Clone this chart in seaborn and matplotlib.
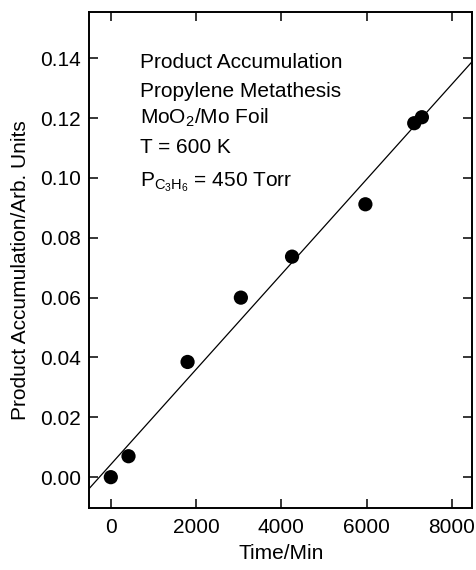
import numpy as np
import pandas as pd
import matplotlib
matplotlib.use("Agg")
import matplotlib.pyplot as plt
import seaborn as sns

time_min = [0, 415, 1800, 3050, 4250, 5970, 7115, 7295]
accumulation = [0.000, 0.0070, 0.0385, 0.0600, 0.0737, 0.0912, 0.1183, 0.1203]
x_ticks = [0, 2000, 4000, 6000, 8000]
y_ticks = [0.00, 0.02, 0.04, 0.06, 0.08, 0.10, 0.12, 0.14]
annotation_lines = ["Product Accumulation", "Propylene Metathesis",
                    "MoO$_2$/Mo Foil", "T = 600 K",
                    "P$_{\\mathregular{C_3H_6}}$ = 450 Torr"]

df = pd.DataFrame({"Time/Min": time_min, "Accum": accumulation})

sns.set_style("ticks")
plt.rcParams["font.family"] = ["Liberation Sans", "DejaVu Sans"]
plt.rcParams["mathtext.fontset"] = "custom"
plt.rcParams["mathtext.rm"] = "Liberation Sans"
plt.rcParams["mathtext.it"] = "Liberation Sans"
plt.rcParams["mathtext.bf"] = "Liberation Sans:bold"
plt.rcParams["text.color"] = "black"
plt.rcParams["axes.labelcolor"] = "black"

FS = 15

fig = plt.figure(figsize=(4.76, 5.70), dpi=100)
ax = fig.add_axes([0.188, 0.1088, 0.8036, 0.8693])
ax.set_xlim(-500, 8470)
ax.set_ylim(-0.0103, 0.1553)

sns.regplot(data=df, x="Time/Min", y="Accum", ax=ax, ci=None, truncate=False,
            scatter_kws=dict(s=105, color="black", edgecolor="none", zorder=3, alpha=1),
            line_kws=dict(color="black", lw=0.9))
ax.set_xlim(-500, 8470)
ax.set_ylim(-0.0103, 0.1553)

ax.set_xticks(x_ticks)
ax.set_yticks(y_ticks)
ax.set_yticklabels([f"{v:.2f}" for v in y_ticks])
ax.tick_params(direction="in", length=6.5, width=1.1, labelsize=FS, pad=6,
               top=True, right=True, labeltop=False, labelright=False, colors="black")
ax.tick_params(axis="x", pad=7.5)
for sp in ax.spines.values():
    sp.set_linewidth(1.4)
    sp.set_color("black")
    sp.set_visible(True)

ax.set_xlabel("Time/Min", fontsize=FS, labelpad=5, color="black")
ax.set_ylabel("Product Accumulation/Arb. Units", fontsize=FS, color="black")
ax.yaxis.set_label_coords(-0.156, 0.48)

ys = [0.8874, 0.830, 0.7764, 0.7158, 0.6484]
for txt, yy in zip(annotation_lines, ys):
    ax.text(0.132, yy, txt, transform=ax.transAxes, fontsize=FS, va="baseline",
            ha="left", color="black")

fig.savefig("out.png", dpi=100)
